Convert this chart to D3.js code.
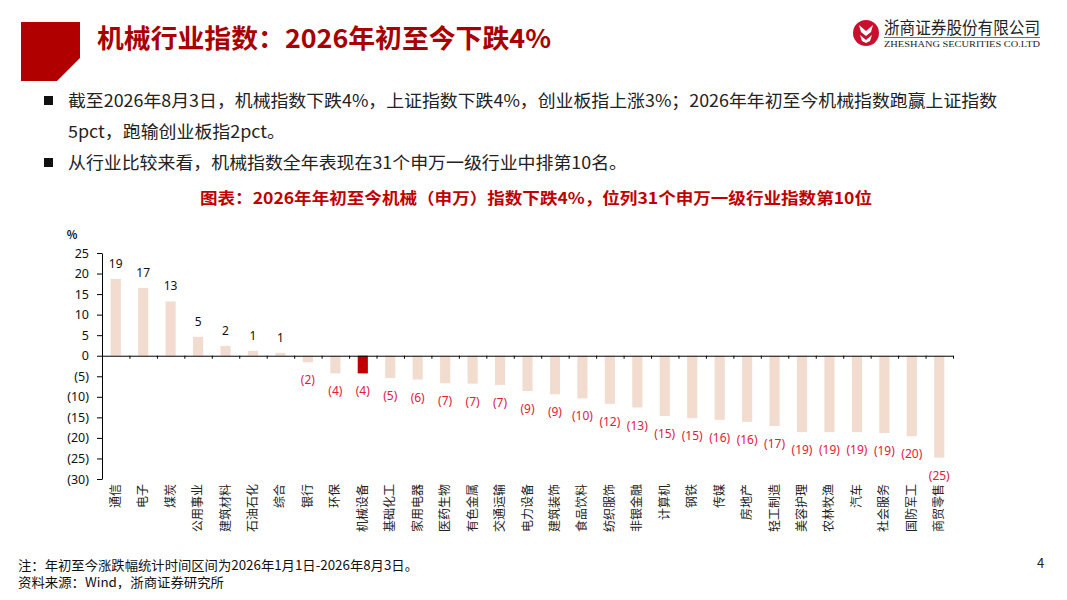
<!DOCTYPE html>
<html>
<head>
<meta charset="utf-8">
<script src="https://cdn.jsdelivr.net/npm/d3@7"></script>
<style>
  body { margin: 0; background: #fff; }
  svg { display: block; font-family: "Noto Sans CJK SC", "Noto Sans", sans-serif; }
</style>
</head>
<body>
<div id="chart"></div>
<script>
// industries, ordered as in the chart
let industries = ["通信", "电子", "煤炭", "公用事业", "建筑材料", "石油石化", "综合", "银行", "环保", "机械设备",
    "基础化工", "家用电器", "医药生物", "有色金属", "交通运输", "电力设备", "建筑装饰", "食品饮料", "纺织服饰", "非银金融",
    "计算机", "钢铁", "传媒", "房地产", "轻工制造", "美容护理", "农林牧渔", "汽车", "社会服务", "国防军工", "商贸零售"];

// YTD change, %
let ytdChange = [18.7, 16.5, 13.2, 4.6, 2.4, 1.2, 0.7, -1.6, -4.3, -4.3,
    -5.4, -5.8, -6.7, -6.8, -7.1, -8.6, -9.4, -10.4, -11.7, -12.6,
    -14.7, -15.2, -15.6, -16.1, -17.1, -18.6, -18.6, -18.6, -18.8, -19.6, -24.8];

let highlight = "机械设备";
let yTicks = [25, 20, 15, 10, 5, 0, -5, -10, -15, -20, -25, -30];

let bulletLines = [
    "截至2026年8月3日，机械指数下跌4%，上证指数下跌4%，创业板指上涨3%；2026年年初至今机械指数跑赢上证指数",
    "5pct，跑输创业板指2pct。",
    "从行业比较来看，机械指数全年表现在31个申万一级行业中排第10名。"
];

let svgWidth = 1067;
let svgHeight = 600;

let svg = d3.select("#chart")
    .append("svg")
    .attr("width", svgWidth)
    .attr("height", svgHeight);

// ---- page header ----
svg.append("polygon")
    .attr("points", "21,22 80,22 80,58 57,81 21,81")
    .attr("fill", "#b00000");

svg.append("text")
    .attr("x", 97)
    .attr("y", 48)
    .attr("font-size", "26px")
    .attr("font-weight", "bold")
    .attr("fill", "#a80000")
    .attr("textLength", 454)
    .attr("lengthAdjust", "spacingAndGlyphs")
    .text("机械行业指数：2026年初至今下跌4%");

// company logo
let logo = svg.append("g").attr("transform", "translate(866, 33)");
logo.append("circle").attr("r", 13).attr("fill", "#c8102e");
logo.append("path")
    .attr("d", "M-7,-8 L0,-2 L7,-8 L5,-1 L0,3 L-5,-1 Z M-6,2 L0,7 L6,2 L4,8 L0,10 L-4,8 Z")
    .attr("fill", "#fff");
svg.append("text")
    .attr("x", 884).attr("y", 34)
    .attr("font-size", "17px")
    .attr("fill", "#222")
    .attr("textLength", 156)
    .attr("lengthAdjust", "spacingAndGlyphs")
    .text("浙商证券股份有限公司");
svg.append("line")
    .attr("x1", 884).attr("x2", 1040)
    .attr("y1", 37.5).attr("y2", 37.5)
    .attr("stroke", "#c8102e").attr("stroke-width", 0.8);
svg.append("text")
    .attr("x", 884).attr("y", 47)
    .attr("font-family", "Liberation Serif, serif")
    .attr("font-size", "9px")
    .attr("fill", "#222")
    .attr("textLength", 156)
    .attr("lengthAdjust", "spacingAndGlyphs")
    .text("ZHESHANG SECURITIES CO.LTD");

// ---- bullet text ----
let lineY = [106, 137, 168];
let lineLen = [929, 217, 559];
bulletLines.forEach(function (line, i) {
    if (i !== 1) {
        svg.append("rect")
            .attr("x", 44).attr("y", lineY[i] - 10)
            .attr("width", 9).attr("height", 9)
            .attr("fill", "#111");
    }
    svg.append("text")
        .attr("x", 68).attr("y", lineY[i] + 1)
        .attr("font-size", "17px")
        .attr("fill", "#222")
        .attr("textLength", lineLen[i])
        .attr("lengthAdjust", "spacingAndGlyphs")
        .text(line);
});

svg.append("text")
    .attr("x", 200).attr("y", 204)
    .attr("font-size", "16px")
    .attr("font-weight", "bold")
    .attr("fill", "#c00000")
    .attr("textLength", 672)
    .attr("lengthAdjust", "spacingAndGlyphs")
    .text("图表：2026年年初至今机械（申万）指数下跌4%，位列31个申万一级行业指数第10位");

// ---- chart ----
let margin = { top: 253, left: 102 };
let chartWidth = 851;
let chartHeight = 226;

let chartGroup = svg.append("g")
    .attr("transform", `translate(${margin.left}, ${margin.top})`);

let yScale = d3.scaleLinear()
    .domain([-30, 25])
    .range([chartHeight, 0]);

let xScale = d3.scaleBand()
    .domain(industries)
    .range([0, chartWidth])
    .paddingInner(0.63)
    .paddingOuter(0.315);

// category boundaries for the zero-line ticks
let edgeScale = d3.scaleLinear()
    .domain([0, industries.length])
    .range([0, chartWidth]);

let fmt = v => v < 0 ? `(${Math.abs(Math.round(v))})` : `${Math.round(v)}`;

let leftAxis = d3.axisLeft(yScale)
    .tickValues(yTicks)
    .tickSize(5)
    .tickSizeOuter(0)
    .tickPadding(8)
    .tickFormat(fmt);

let yAxis = chartGroup.append("g").call(leftAxis);
yAxis.select(".domain").attr("stroke", "#000");
yAxis.selectAll(".tick line").attr("stroke", "#000");
yAxis.selectAll(".tick text")
    .attr("font-size", "12.5px")
    .attr("fill", "#111")
    .attr("font-family", "Noto Sans, sans-serif");

chartGroup.append("text")
    .attr("x", -30)
    .attr("y", -14)
    .attr("text-anchor", "middle")
    .attr("font-size", "11px")
    .attr("font-weight", "bold")
    .attr("fill", "#111")
    .text("%");

// bars
chartGroup.selectAll("rect.bar")
    .data(industries)
    .enter()
    .append("rect")
    .attr("class", "bar")
    .attr("x", d => xScale(d))
    .attr("width", xScale.bandwidth())
    .attr("y", (d, i) => yScale(Math.max(0, ytdChange[i])))
    .attr("height", (d, i) => Math.abs(yScale(ytdChange[i]) - yScale(0)))
    .attr("fill", d => d === highlight ? "#c00000" : "#f2dcd0");

// zero line axis with ticks between categories
let bottomAxis = d3.axisBottom(edgeScale)
    .tickValues(d3.range(industries.length + 1))
    .tickSize(3)
    .tickSizeOuter(0)
    .tickFormat("");

let xAxis = chartGroup.append("g")
    .attr("transform", `translate(0, ${yScale(0)})`)
    .call(bottomAxis);
xAxis.selectAll("path, line").attr("stroke", "#000");

// value labels
chartGroup.selectAll("text.val")
    .data(industries)
    .enter()
    .append("text")
    .attr("class", "val")
    .attr("x", d => xScale(d) + xScale.bandwidth() / 2)
    .attr("y", (d, i) => ytdChange[i] >= 0 ? yScale(ytdChange[i]) - 11 : yScale(ytdChange[i]) + 22)
    .attr("text-anchor", "middle")
    .attr("font-size", "12px")
    .attr("font-family", "Noto Sans, sans-serif")
    .attr("fill", (d, i) => ytdChange[i] >= 0 ? "#111" : "#e0203a")
    .text((d, i) => fmt(ytdChange[i]));

// category labels, rotated
chartGroup.selectAll("text.cat")
    .data(industries)
    .enter()
    .append("text")
    .attr("class", "cat")
    .attr("transform", d => `translate(${xScale(d) + xScale.bandwidth() / 2 + 4}, ${chartHeight + 5}) rotate(-90)`)
    .attr("text-anchor", "end")
    .attr("font-size", "12px")
    .attr("fill", "#222")
    .text(d => d);

// ---- footer ----
svg.append("text")
    .attr("x", 18).attr("y", 570)
    .attr("font-size", "13px")
    .attr("fill", "#111")
    .attr("textLength", 400)
    .attr("lengthAdjust", "spacingAndGlyphs")
    .text("注：年初至今涨跌幅统计时间区间为2026年1月1日-2026年8月3日。");
svg.append("text")
    .attr("x", 18).attr("y", 587)
    .attr("font-size", "13px")
    .attr("fill", "#111")
    .attr("textLength", 206)
    .attr("lengthAdjust", "spacingAndGlyphs")
    .text("资料来源：Wind，浙商证券研究所");
svg.append("text")
    .attr("x", 1037).attr("y", 568)
    .attr("font-size", "13px")
    .attr("fill", "#222")
    .text("4");
</script>
</body>
</html>
